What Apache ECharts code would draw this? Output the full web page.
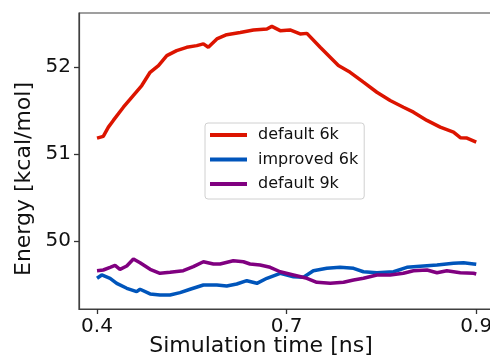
<!DOCTYPE html>
<html>
<head>
<meta charset="utf-8">
<script src="https://cdn.jsdelivr.net/npm/echarts@6/dist/echarts.min.js"></script>
<style>html,body{margin:0;padding:0;background:#fff}#c{width:490px;height:358px}</style>
</head>
<body>
<div id="c"></div>
<script>
// x positions: 0 = tick "0.4", 1 = tick "0.7", 2 = tick "0.9"
const xTickPos = [0, 1, 2];
const xTickLabels = ['0.4', '0.7', '0.9'];
const yTickVals = [50, 51, 52];
const seriesNames = ['default 6k', 'improved 6k', 'default 9k'];

const redX = [0, 0.033, 0.060, 0.086, 0.139, 0.191, 0.236, 0.280, 0.324, 0.368, 0.420, 0.473, 0.526, 0.561, 0.587, 0.632, 0.684, 0.755, 0.825, 0.896, 0.922, 0.966, 1.018, 1.071, 1.107, 1.177, 1.273, 1.335, 1.405, 1.476, 1.546, 1.616, 1.669, 1.740, 1.810, 1.880, 1.916, 1.951, 2.0];
const redY = [51.183, 51.203, 51.309, 51.386, 51.538, 51.672, 51.787, 51.939, 52.016, 52.131, 52.188, 52.226, 52.245, 52.265, 52.226, 52.322, 52.371, 52.397, 52.425, 52.436, 52.466, 52.417, 52.425, 52.379, 52.386, 52.226, 52.016, 51.939, 51.825, 51.710, 51.615, 51.538, 51.481, 51.386, 51.309, 51.252, 51.188, 51.183, 51.137];

const blueX = [0, 0.025, 0.069, 0.104, 0.157, 0.209, 0.227, 0.280, 0.332, 0.385, 0.438, 0.491, 0.561, 0.632, 0.684, 0.737, 0.790, 0.843, 0.896, 0.966, 1.036, 1.089, 1.141, 1.212, 1.282, 1.353, 1.405, 1.476, 1.564, 1.634, 1.722, 1.793, 1.880, 1.933, 1.986, 2.0];
const blueY = [49.573, 49.611, 49.573, 49.515, 49.458, 49.419, 49.447, 49.393, 49.381, 49.381, 49.408, 49.447, 49.496, 49.496, 49.485, 49.507, 49.545, 49.515, 49.573, 49.630, 49.591, 49.584, 49.660, 49.687, 49.699, 49.687, 49.648, 49.637, 49.648, 49.699, 49.714, 49.725, 49.745, 49.751, 49.737, 49.733];

const purpleX = [0, 0.033, 0.069, 0.095, 0.121, 0.157, 0.192, 0.227, 0.280, 0.332, 0.385, 0.455, 0.508, 0.561, 0.614, 0.649, 0.719, 0.772, 0.807, 0.860, 0.913, 0.966, 1.036, 1.107, 1.159, 1.230, 1.300, 1.353, 1.405, 1.476, 1.546, 1.616, 1.669, 1.740, 1.793, 1.845, 1.916, 1.986, 2.0];
const purpleY = [49.660, 49.668, 49.699, 49.722, 49.676, 49.714, 49.794, 49.751, 49.676, 49.630, 49.641, 49.660, 49.706, 49.763, 49.737, 49.737, 49.774, 49.763, 49.737, 49.725, 49.699, 49.648, 49.611, 49.573, 49.527, 49.515, 49.527, 49.553, 49.573, 49.611, 49.611, 49.630, 49.660, 49.668, 49.637, 49.660, 49.637, 49.630, 49.622];

const colors = ['#dc1400', '#0055bb', '#800080'];
const FONT = 'DejaVu Sans';
const zip = (xs, ys) => xs.map((x, i) => [x, ys[i]]);

const chart = echarts.init(document.getElementById('c'), null, {renderer: 'canvas'});
const lineSeries = (name, data, color) => ({
  name, type: 'line', data, showSymbol: false, symbol: 'none',
  lineStyle: {width: 3.5, color}, itemStyle: {color}, animation: false
});
chart.setOption({
  animation: false,
  grid: {left: 79, top: 13, width: 420, height: 296, outerBoundsMode: 'none', containLabel: false,
    show: true, borderColor: '#404040', borderWidth: 1.2, backgroundColor: '#fff'},
  legend: {
    orient: 'vertical', left: 205, top: 123,
    data: seriesNames.map(n => ({name: n, icon: 'rect'})),
    itemWidth: 37, itemHeight: 4, itemGap: 6.5,
    padding: [3, 6, 6, 5],
    borderColor: '#d0d0d0', borderWidth: 1, borderRadius: 3,
    backgroundColor: 'rgba(255,255,255,0.85)',
    textStyle: {fontFamily: FONT, fontSize: 16, color: '#111', lineHeight: 18, padding: [0, 0, 0, 6]}
  },
  xAxis: {
    type: 'value', min: -0.095, max: 2.12,
    name: 'Simulation time [ns]', nameLocation: 'middle', nameGap: 26, nameMoveOverlap: false,
    nameTextStyle: {fontFamily: FONT, fontSize: 22, color: '#111', padding: [0, 56, 0, 0]},
    axisLine: {show: true, onZero: false, lineStyle: {color: '#404040', width: 1.2}},
    axisTick: {show: true, inside: false, length: 5, lineStyle: {color: '#333', width: 1.3}, customValues: xTickPos},
    axisLabel: {fontFamily: FONT, fontSize: 20, color: '#111', margin: 8, customValues: xTickPos,
      formatter: v => { const i = xTickPos.indexOf(Math.round(v)); return i >= 0 ? xTickLabels[i] : ''; }},
    splitLine: {show: false}
  },
  yAxis: {
    type: 'value', min: 49.22, max: 52.62,
    name: 'Energy [kcal/mol]', nameLocation: 'middle', nameGap: 44, nameMoveOverlap: false,
    nameTextStyle: {fontFamily: FONT, fontSize: 22, color: '#111', padding: [0, 36, 0, 0]},
    axisLine: {show: true, onZero: false, lineStyle: {color: '#404040', width: 1.2}},
    axisTick: {show: true, inside: false, length: 5, lineStyle: {color: '#333', width: 1.3}, customValues: yTickVals},
    axisLabel: {fontFamily: FONT, fontSize: 20, color: '#111', margin: 8, customValues: yTickVals,
      formatter: v => String(v)},
    splitLine: {show: false}
  },
  series: [
    lineSeries(seriesNames[0], zip(redX, redY), colors[0]),
    lineSeries(seriesNames[1], zip(blueX, blueY), colors[1]),
    lineSeries(seriesNames[2], zip(purpleX, purpleY), colors[2])
  ]
});
</script>
</body>
</html>
